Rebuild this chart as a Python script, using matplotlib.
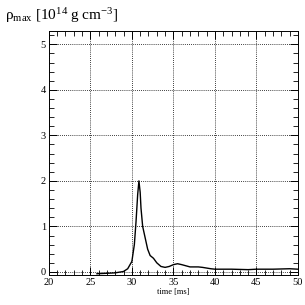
import matplotlib
matplotlib.use("Agg")
import matplotlib.pyplot as plt
from matplotlib.ticker import MultipleLocator

time_ms = [25.8, 27.0, 28.0, 29.0, 29.5, 30.0, 30.3, 30.5, 30.7, 30.85, 31.0, 31.1, 31.3, 31.6,
           31.9, 32.2, 32.6, 33.0, 33.5, 34.0, 34.5, 35.0, 35.5, 36.0, 37.0, 38.0, 38.5, 39.5,
           40.0, 42.0, 44.0, 45.0, 47.0, 49.0, 50.0]
rho_max = [-0.04, -0.03, -0.02, 0.01, 0.07, 0.23, 0.6, 1.1, 1.7, 2.0, 1.75, 1.4, 1.0, 0.75,
           0.5, 0.36, 0.3, 0.2, 0.12, 0.1, 0.12, 0.16, 0.18, 0.16, 0.11, 0.11, 0.1, 0.07,
           0.06, 0.06, 0.05, 0.06, 0.06, 0.07, 0.06]

plt.rcParams['font.family'] = ['Liberation Serif', 'DejaVu Serif']
plt.rcParams['mathtext.fontset'] = 'custom'
plt.rcParams['mathtext.rm'] = 'Liberation Serif'
plt.rcParams['mathtext.it'] = 'Liberation Serif:italic'

fig = plt.figure(figsize=(3.05, 3.05), dpi=100)
ax = fig.add_axes([0.16, 0.098, 0.817, 0.80])

ax.plot(time_ms, rho_max, color='black', linewidth=1.0)

ax.set_xlim(20, 50)
ax.set_ylim(-0.07, 5.29)
ax.xaxis.set_major_locator(MultipleLocator(5))
ax.xaxis.set_minor_locator(MultipleLocator(1))
ax.yaxis.set_major_locator(MultipleLocator(1))
ax.yaxis.set_minor_locator(MultipleLocator(0.2))
ax.tick_params(which='both', direction='in', top=True, right=True, labelsize=7.5, pad=2)
ax.tick_params(which='major', length=6, width=0.7)
ax.tick_params(which='minor', length=3.5, width=0.6)
for s in ax.spines.values():
    s.set_linewidth(0.7)

ax.grid(True, which='major', color='black', linestyle=(0, (1, 1.5)), linewidth=0.6)
ax.set_xlabel("time [ms]", fontsize=6, labelpad=1)

fig.text(0.015, 0.935, r"ρ$_{\rm max}$ [10$^{14}$ g cm$^{-3}$]", fontsize=11)

fig.savefig("out.png", dpi=100)
